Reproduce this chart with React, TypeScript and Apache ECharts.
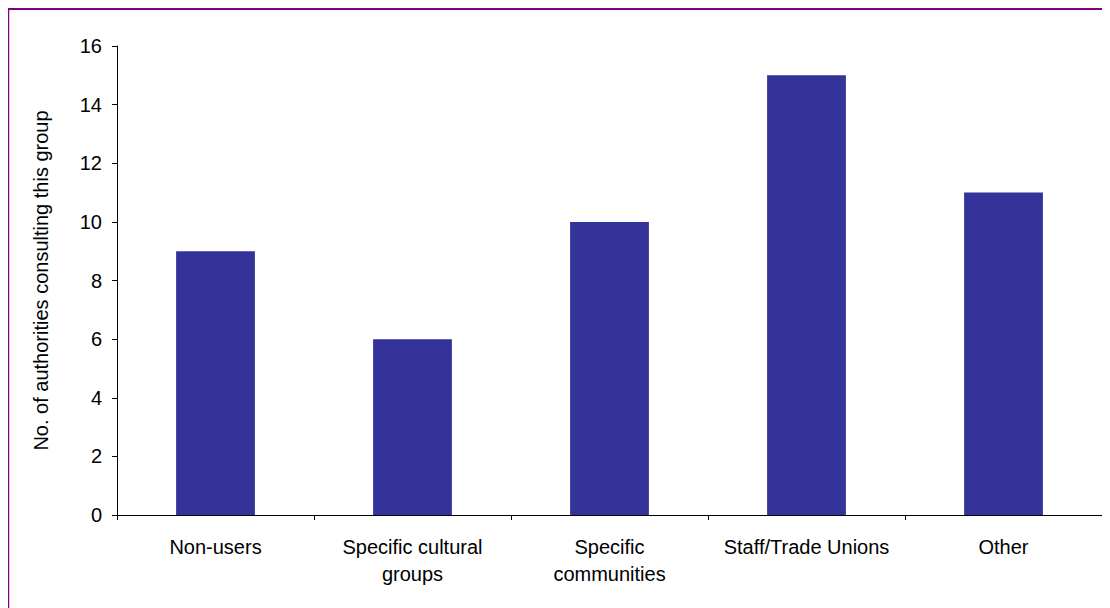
import React, { useEffect, useRef } from "react";
import * as echarts from "echarts";

const categories = [
  "Non-users",
  "Specific cultural\ngroups",
  "Specific\ncommunities",
  "Staff/Trade Unions",
  "Other",
];
const values = [9, 6, 10, 15, 11];
const yTicks = { min: 0, max: 16, interval: 2 };

export default function App() {
  const ref = useRef<HTMLDivElement>(null);
  useEffect(() => {
    if (!ref.current) return;
    const chart = echarts.init(ref.current, undefined, { renderer: "svg" });
    chart.setOption({
      animation: false,
      backgroundColor: "#ffffff",
      textStyle: { fontFamily: "Liberation Sans, Arial, sans-serif" },
      graphic: [
        { type: "line", shape: { x1: 0, y1: 1, x2: 1102, y2: 1 }, style: { stroke: "#800080", lineWidth: 2 } },
        { type: "line", shape: { x1: 0.5, y1: 0, x2: 0.5, y2: 600 }, style: { stroke: "#800080", lineWidth: 1.5 } },
      ],
      grid: { left: 109, top: 38, right: 8, bottom: 93, containLabel: false },
      xAxis: {
        type: "category",
        data: categories,
        axisLine: { lineStyle: { color: "#000000", width: 1 } },
        axisTick: { show: true, length: 5, alignWithLabel: false, lineStyle: { color: "#000000" } },
        axisLabel: { color: "#000000", fontSize: 20, margin: 18, lineHeight: 27, interval: 0 },
      },
      yAxis: {
        type: "value",
        min: yTicks.min,
        max: yTicks.max,
        interval: yTicks.interval,
        name: "No. of authorities consulting this group",
        nameLocation: "middle",
        nameGap: 66,
        nameTextStyle: { color: "#000000", fontSize: 20 },
        splitLine: { show: false },
        axisLine: { show: true, lineStyle: { color: "#000000", width: 1 } },
        axisTick: { show: true, length: 5, lineStyle: { color: "#000000" } },
        axisLabel: { color: "#000000", fontSize: 20, margin: 15 },
      },
      series: [
        {
          type: "bar",
          data: values,
          barWidth: "40%",
          itemStyle: { color: "#333399" },
        },
      ],
    });
    return () => chart.dispose();
  }, []);
  return <div ref={ref} style={{ width: 1102, height: 600 }} />;
}
